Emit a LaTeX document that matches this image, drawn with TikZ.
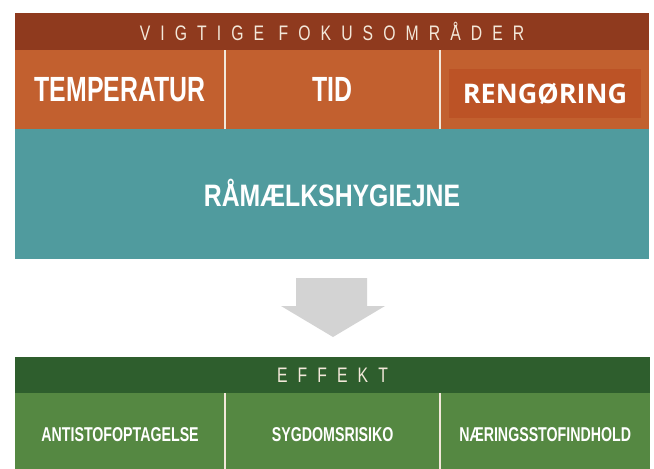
\documentclass[tikz,border=0pt]{standalone}
\usepackage{fontspec}
\setmainfont{Liberation Sans}
\newfontfamily\narrowfont[FakeStretch=0.71]{Liberation Sans}
\newfontfamily\widefont[FakeStretch=0.8]{Liberation Sans}
\newfontfamily\capsfont[FakeStretch=0.75,LetterSpace=48]{Liberation Sans}
\newfontfamily\openfont{Open Sans}

\definecolor{rust}{HTML}{8F3A1E}
\definecolor{orangecell}{HTML}{C2602F}
\definecolor{orangebox}{HTML}{BC5326}
\definecolor{tealband}{HTML}{509B9E}
\definecolor{greendark}{HTML}{2E5E2D}
\definecolor{greencell}{HTML}{558842}
\definecolor{cream}{HTML}{F3E8DA}
\definecolor{arrowgrey}{HTML}{D3D3D3}

\begin{document}
\begin{tikzpicture}[x=1pt,y=-1pt,
  band/.style={anchor=north west, inner sep=0pt, minimum height=#1},
  cell/.style={anchor=north west, inner sep=0pt},
  biglabel/.style={text=white, inner sep=0pt, anchor=base,
    font=\narrowfont\bfseries\fontsize{35}{35}\selectfont},
  smalllabel/.style={text=white, inner sep=0pt, anchor=base,
    font=\narrowfont\bfseries\fontsize{20}{20}\selectfont},
  title/.style={text=cream, font=\capsfont\fontsize{21}{21}\selectfont},
  divider/.style={cream, line width=2pt}]

\useasboundingbox (0,0) rectangle (654,469);
%\draw[help lines,step=50pt] (0,0) grid (654,469);

% top block
\node[band=37.3pt, fill=rust, minimum width=634.3pt] (fokus) at (14.7,12.7) {};
\node[title] (fokustxt) at (fokus.center) {VIGTIGE FOKUSOMRÅDER};

\node[cell, fill=orangecell, minimum width=210.3pt, minimum height=79pt] (temp) at (14.7,50) {};
\node[cell, fill=orangecell, minimum width=215pt, minimum height=79pt] (tid) at (225,50) {};
\node[cell, fill=orangecell, minimum width=209pt, minimum height=79pt] (reng) at (440,50) {};
\node[biglabel] (temptxt) at ([yshift=-12.2pt]temp.center) {TEMPERATUR};
\node[biglabel] (tidtxt) at ([yshift=-12.2pt]tid.center) {TID};
\node[fill=orangebox, text=white, minimum width=192pt, minimum height=49pt, inner sep=0pt,
  font=\openfont\bfseries\fontsize{27}{27}\selectfont] (rengtxt) at (545,93.5) {RENGØRING};

\draw[divider] (temp.north east) -- (temp.south east);
\draw[divider] (tid.north east) -- (tid.south east);

\node[band=130pt, fill=tealband, minimum width=634.3pt] (hygiejne) at (14.7,129) {};
\node[biglabel, font=\widefont\bfseries\fontsize{31}{31}\selectfont] (hygtxt)
  at ([yshift=-12.7pt]hygiejne.center) {RÅMÆLKSHYGIEJNE};

% arrow
\fill[arrowgrey] (296,278) -- (367,278) -- (367,306) -- (385,306) -- (333,337)
  -- (281,306) -- (296,306) -- cycle;

% bottom block
\node[band=36pt, fill=greendark, minimum width=635.3pt] (effekt) at (14.7,357) {};
\node[title] (effekttxt) at (effekt.center) {EFFEKT};

\node[cell, fill=greencell, minimum width=210.3pt, minimum height=76pt] (anti) at (14.7,393) {};
\node[cell, fill=greencell, minimum width=215pt, minimum height=76pt] (syg) at (225,393) {};
\node[cell, fill=greencell, minimum width=210pt, minimum height=76pt] (naer) at (440,393) {};
\node[smalllabel] (antitxt) at ([yshift=-10.7pt]anti.center) {ANTISTOFOPTAGELSE};
\node[smalllabel] (sygtxt) at ([yshift=-10.7pt]syg.center) {SYGDOMSRISIKO};
\node[smalllabel] (naertxt) at ([yshift=-10.7pt]naer.center) {NÆRINGSSTOFINDHOLD};

\draw[divider] (anti.north east) -- (anti.south east);
\draw[divider] (syg.north east) -- (syg.south east);

\end{tikzpicture}
\end{document}
